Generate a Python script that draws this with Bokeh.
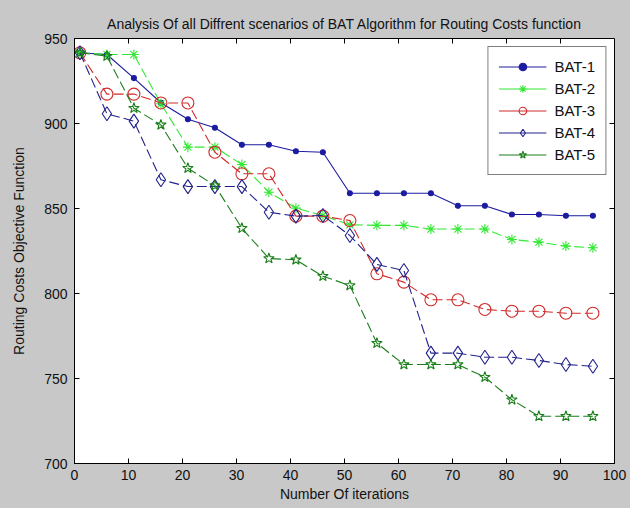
import math
from bokeh.plotting import figure
from bokeh.models import Range1d, FixedTicker, Legend, LegendItem, GlobalInlineStyleSheet
from bokeh.embed import file_html
from bokeh.resources import INLINE

iterations = [1, 6, 11, 16, 21, 26, 31, 36, 41, 46, 51, 56, 61, 66, 71, 76, 81, 86, 91, 96]
bat1 = [941.6, 940.6, 926.7, 912.2, 902.5, 897.5, 887.5, 887.5, 883.7, 883.1,
        859.0, 859.0, 859.0, 859.0, 851.6, 851.6, 846.5, 846.5, 845.7, 845.7]
bat2 = [941.6, 940.6, 940.6, 911.6, 886.1, 886.1, 875.9, 859.6, 850.2, 845.9,
        840.4, 840.1, 840.1, 837.9, 837.9, 837.9, 831.8, 830.2, 827.9, 826.9]
bat3 = [941.6, 917.3, 917.3, 912.1, 912.1, 883.1, 870.4, 870.4, 845.5, 845.5,
        842.9, 811.6, 806.7, 796.3, 796.3, 790.6, 789.6, 789.6, 788.4, 788.4]
bat4 = [941.6, 905.7, 901.4, 866.9, 862.9, 862.9, 862.9, 847.8, 845.5, 845.9,
        834.1, 817.1, 813.5, 764.9, 764.9, 762.5, 762.5, 760.6, 758.2, 757.2]
bat5 = [941.6, 939.6, 909.0, 899.2, 873.7, 863.5, 838.4, 820.6, 819.8, 810.2,
        804.7, 770.8, 758.2, 758.2, 758.2, 750.8, 737.5, 727.8, 727.8, 727.8]
names = ["BAT-1", "BAT-2", "BAT-3", "BAT-4", "BAT-5"]
x_ticks = [0, 10, 20, 30, 40, 50, 60, 70, 80, 90, 100]
y_ticks = [700, 750, 800, 850, 900, 950]

FONT = "Liberation Sans"
BG = "#c8c8c8"
TXT = "#111111"

p = figure(width=630, height=508, output_backend="svg", toolbar_location=None,
           x_range=Range1d(x_ticks[0], x_ticks[-1]), y_range=Range1d(y_ticks[0], y_ticks[-1]),
           min_border_left=74, min_border_right=16, min_border_top=38,
           min_border_bottom=45)
p.stylesheets = [GlobalInlineStyleSheet(css="body{background:%s;}" % BG)]
p.background_fill_color = "white"
p.border_fill_color = BG
p.outline_line_color = "black"
p.outline_line_width = 1
p.xgrid.visible = False
p.ygrid.visible = False

p.title.text = "Analysis Of all Diffrent scenarios of BAT Algorithm for Routing Costs function"
p.title.align = "center"
p.title.text_font = FONT
p.title.text_font_size = "14px"
p.title.text_font_style = "normal"
p.title.text_color = TXT
p.title.standoff = 13

def style_axis(ax, ticks):
    ax.ticker = FixedTicker(ticks=ticks)
    ax.major_tick_in = 5
    ax.major_tick_out = 0
    ax.minor_tick_in = 0
    ax.minor_tick_out = 0
    ax.axis_line_color = "black"
    ax.major_tick_line_color = "black"
    ax.major_label_text_font = FONT
    ax.major_label_text_font_size = "14px"
    ax.major_label_text_color = TXT
    ax.axis_label_text_font = FONT
    ax.axis_label_text_font_size = "14px"
    ax.axis_label_text_font_style = "normal"
    ax.axis_label_text_color = TXT

style_axis(p.xaxis[0], x_ticks)
style_axis(p.yaxis[0], y_ticks)
p.xaxis[0].axis_label = "Number Of iterations"
p.xaxis[0].major_label_standoff = 6
p.xaxis[0].axis_label_standoff = 3
p.yaxis[0].axis_label = "Routing Costs Objective Function"
p.yaxis[0].major_label_standoff = 7
p.yaxis[0].axis_label_standoff = 14

# inward tick marks on the top and right edges of the box (clipped to the frame)
p.scatter(x_ticks[1:-1], [y_ticks[-1]] * (len(x_ticks) - 2), marker="dash",
          angle=math.pi / 2, size=10, line_color="black", line_width=1)
p.scatter([x_ticks[-1]] * (len(y_ticks) - 2), y_ticks[1:-1], marker="dash",
          size=10, line_color="black", line_width=1)

series = [bat1, bat2, bat3, bat4, bat5]
colors = ["#1c1ca0", "#33e833", "#d02a2a", "#22228c", "#1a7f1a"]
dashes = ["solid", "10 4", "10 4", "10 4", "10 4"]
markers = ["circle", "asterisk", "circle", "diamond", "star"]
msizes = [5, 10, 12, 14, 11]
fills = [True, False, False, False, False]

items = []
for name, ys, c, d, m, s, f in zip(names, series, colors, dashes, markers, msizes, fills):
    p.line(iterations, ys, line_color=c, line_width=1.1, line_dash=d)
    sc = p.scatter(iterations, ys, marker=m, size=s, line_color=c, line_width=1.1,
                   fill_color=c if f else None)
    # one-point solid line: draws nothing on the plot, gives the legend a solid key line
    key = p.line(iterations[:1], ys[:1], line_color=c, line_width=1.1)
    items.append(LegendItem(label=name, renderers=[key, sc]))

legend = Legend(items=items, location="top_right")
legend.margin = 8
legend.padding = 10
legend.spacing = 3
legend.glyph_width = 48
legend.glyph_height = 19
legend.label_height = 19
legend.label_standoff = 8
legend.label_text_font = FONT
legend.label_text_font_size = "15px"
legend.label_text_color = TXT
legend.border_line_color = "black"
legend.border_line_width = 1
legend.background_fill_color = "white"
legend.background_fill_alpha = 1.0
p.add_layout(legend)

open("out.html", "w").write(file_html(p, INLINE))
